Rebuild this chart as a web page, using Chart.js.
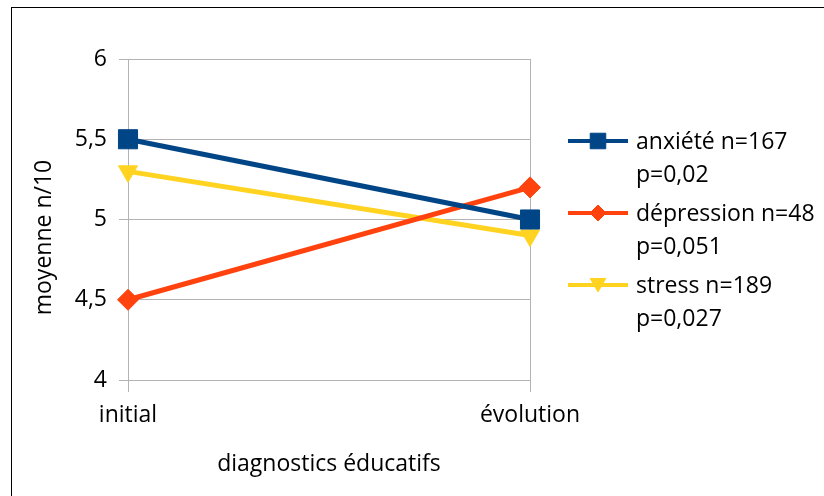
<!DOCTYPE html>
<html>
<head>
<meta charset="utf-8">
<script src="https://cdn.jsdelivr.net/npm/chart.js@4/dist/chart.umd.min.js"></script>
<style>
  html, body { margin: 0; padding: 0; background: #fff; }
  #wrap { position: relative; width: 824px; height: 496px; overflow: hidden; }
  #frame { position: absolute; left: 11px; top: 7px; width: 900px; height: 600px;
           border-left: 1px solid #000; border-top: 1px solid #000; }
  #chart { position: absolute; left: 0; top: 0; }
</style>
</head>
<body>
<div id="wrap">
  <div id="frame"></div>
  <canvas id="chart" width="824" height="496"></canvas>
</div>
<script>
const categories = ['initial', 'évolution'];
const seriesNames = ['anxiété n=167', 'dépression n=48', 'stress n=189'];
const pValues = ['p=0,02', 'p=0,051', 'p=0,027'];
const anxiete = [5.5, 5.0];
const depression = [4.5, 5.2];
const stress = [5.3, 4.9];
const yTicks = [4, 4.5, 5, 5.5, 6];
const yTitle = 'moyenne n/10';
const xTitle = 'diagnostics éducatifs';

const colors = ['#004586', '#ff420e', '#ffd320'];
const pointStyles = ['rect', 'rectRot', 'triangle'];
const pointRotations = [0, 0, 180];
const pointSizes = [13.5, 10.5, 11];
const legendSizes = [11, 8, 9];

const FONT = '"Open Sans", sans-serif';
const FSIZE = 23;
const GRID = '#b3b3b3';

// y title (sits a bit lower than the plot centre) and the two-line legend
const sideLegend = {
  id: 'sideLegend',
  afterDraw(chart) {
    const ctx = chart.ctx;
    const area = chart.chartArea;
    ctx.save();
    ctx.font = FSIZE + 'px ' + FONT;
    ctx.fillStyle = '#000';
    ctx.textBaseline = 'middle';

    ctx.save();
    ctx.translate(44, (area.top + chart.height) / 2 - 40);
    ctx.rotate(-Math.PI / 2);
    ctx.textAlign = 'center';
    ctx.fillText(yTitle, 0, 0);
    ctx.restore();

    const x0 = area.right + 38;
    const x1 = area.right + 98;
    const tx = area.right + 106;
    chart.data.datasets.forEach((ds, i) => {
      const y = area.top + 82 + i * 72;
      ctx.strokeStyle = ds.borderColor;
      ctx.lineWidth = 4;
      ctx.beginPath();
      ctx.moveTo(x0, y);
      ctx.lineTo(x1, y);
      ctx.stroke();
      ctx.fillStyle = ds.borderColor;
      ctx.lineWidth = 1;
      Chart.helpers.drawPoint(ctx, {
        pointStyle: pointStyles[i],
        rotation: pointRotations[i],
        radius: legendSizes[i],
        borderWidth: 1
      }, (x0 + x1) / 2, pointStyles[i] === 'triangle' ? y - 2 : y);
      ctx.fillStyle = '#000';
      ctx.textAlign = 'left';
      ctx.fillText(seriesNames[i], tx, y + 1);
      ctx.fillText(pValues[i], tx, y + 34);
    });
    ctx.restore();
  }
};

const datasets = [anxiete, depression, stress].map((values, i) => ({
  label: seriesNames[i],
  data: values,
  borderColor: colors[i],
  backgroundColor: colors[i],
  borderWidth: 5,
  pointStyle: pointStyles[i],
  rotation: pointRotations[i],
  pointRadius: pointSizes[i],
  pointHoverRadius: pointSizes[i],
  pointBorderWidth: 1,
  pointBorderColor: colors[i],
  pointBackgroundColor: colors[i],
  tension: 0,
  clip: false
}));

new Chart(document.getElementById('chart'), {
  type: 'line',
  data: { labels: categories, datasets: datasets },
  options: {
    responsive: false,
    animation: false,
    events: [],
    layout: { padding: { top: 59, right: 294, bottom: 0, left: 0 } },
    plugins: { legend: { display: false }, tooltip: { enabled: false } },
    scales: {
      x: {
        offset: false,
        grid: { color: GRID, lineWidth: 1, tickLength: 12 },
        border: { color: GRID },
        ticks: { color: '#000', font: { family: FONT, size: FSIZE }, padding: 10, maxRotation: 0 },
        title: {
          display: true, text: xTitle, color: '#000',
          font: { family: FONT, size: FSIZE }, padding: { top: 0, bottom: 18 }
        },
        afterFit(scale) { scale.height = 116; }
      },
      y: {
        min: 4,
        max: 6,
        afterBuildTicks(scale) { scale.ticks = yTicks.map(v => ({ value: v })); },
        grid: { color: GRID, lineWidth: 1, tickLength: 9 },
        border: { color: GRID },
        ticks: {
          color: '#000', font: { family: FONT, size: FSIZE }, padding: 12,
          callback: v => String(v).replace('.', ',')
        },
        title: { display: false },
        afterFit(scale) { scale.width = 128; }
      }
    }
  },
  plugins: [sideLegend]
});
</script>
</body>
</html>
